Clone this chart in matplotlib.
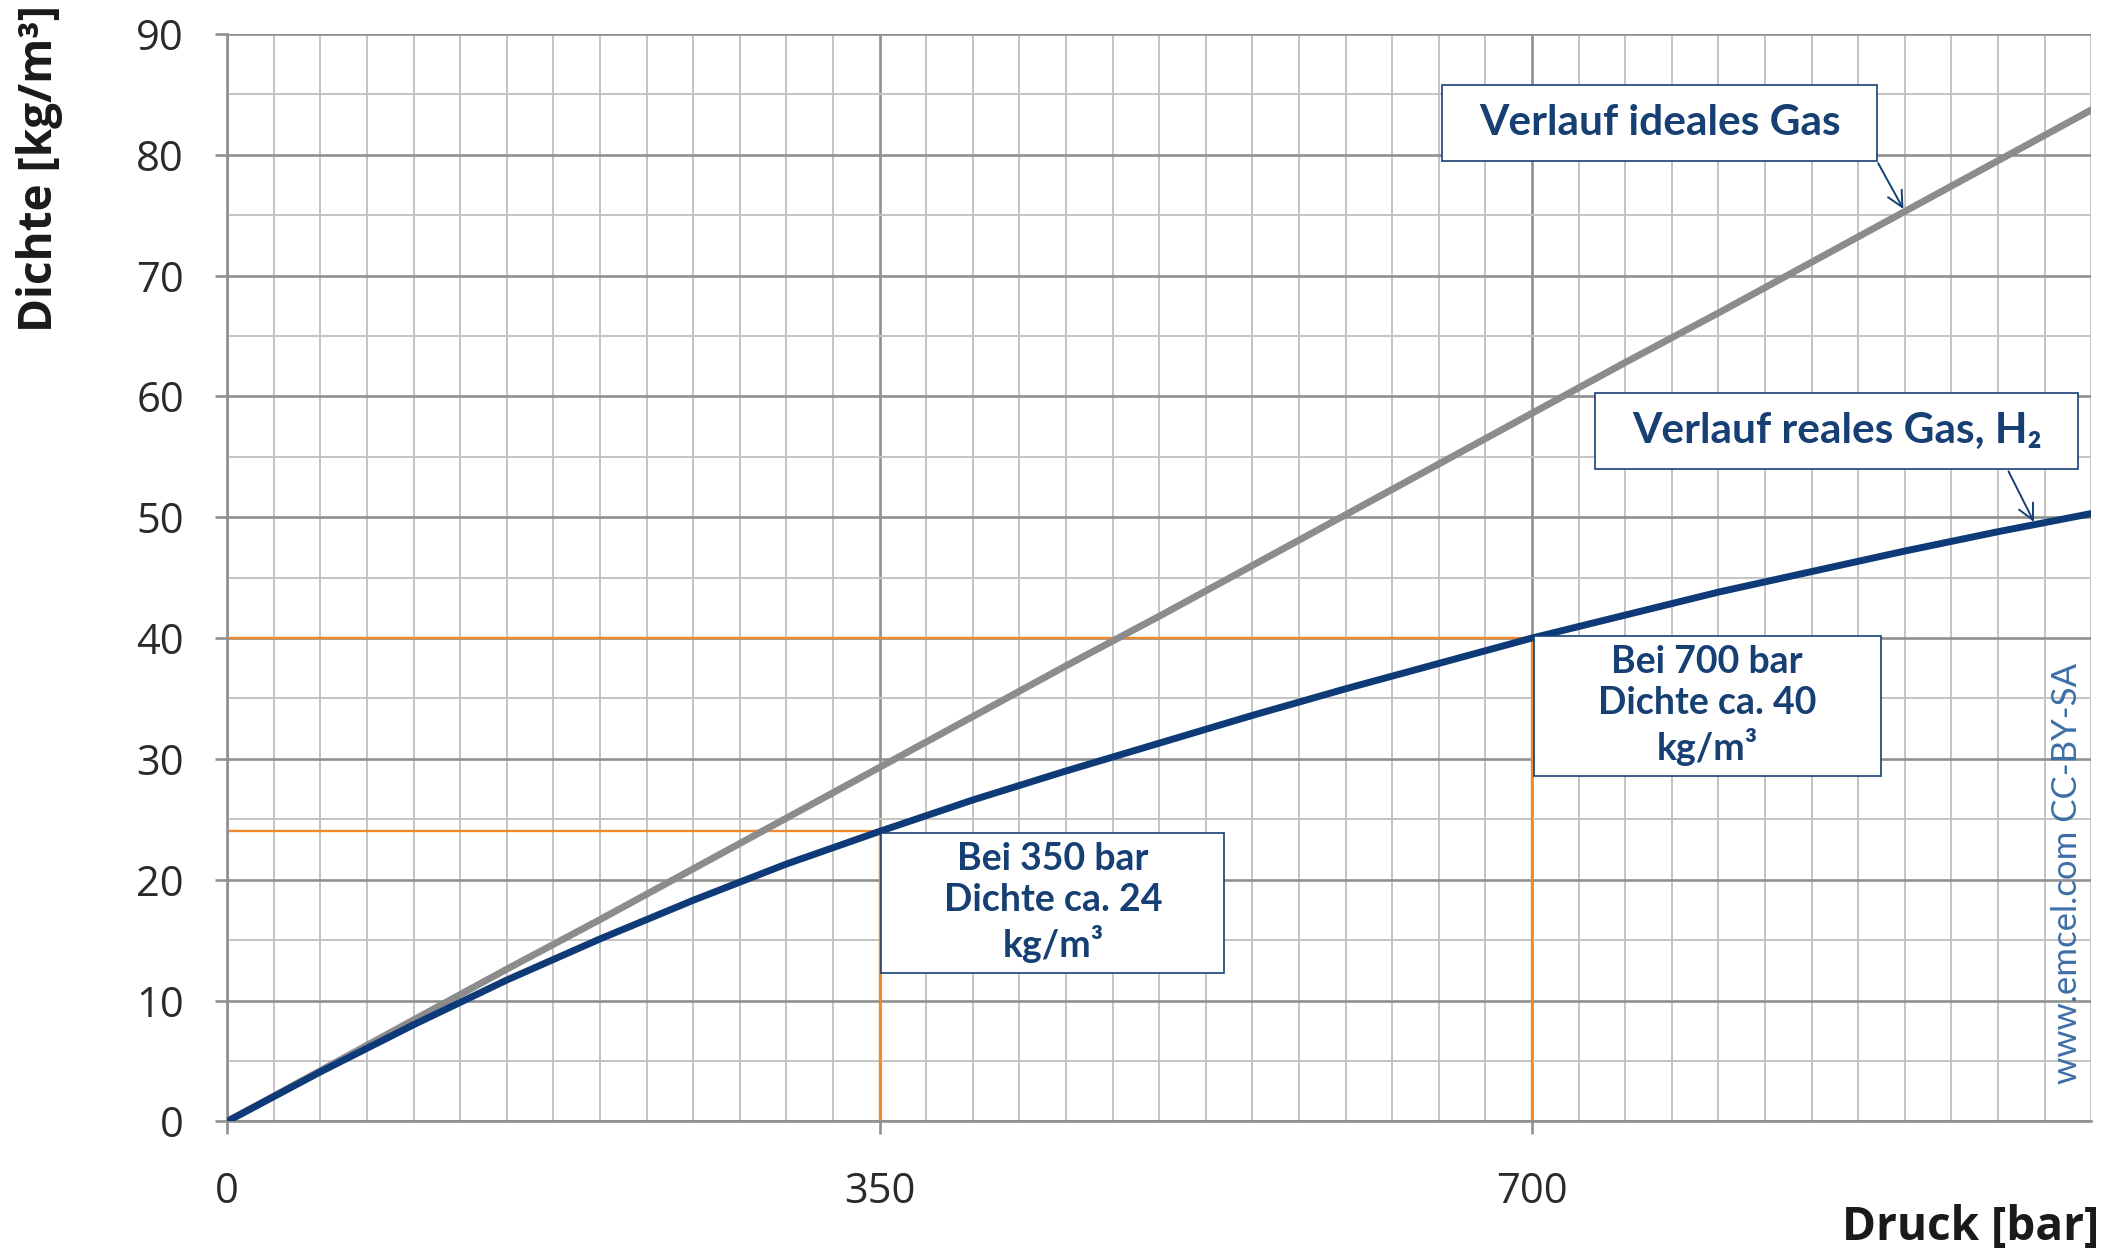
import numpy as np
import matplotlib
matplotlib.use('Agg')
import matplotlib.pyplot as plt
from matplotlib.patches import Rectangle

# ── Data ──
pressure = [0, 50, 100, 150, 200, 250, 300, 350, 400, 450, 500,
            550, 600, 650, 700, 750, 800, 850, 900, 950, 1000]
rho_ideal = [0, 4.2, 8.4, 12.6, 16.7, 20.9, 25.1, 29.3, 33.5, 37.7, 41.8,
             46.0, 50.2, 54.4, 58.6, 62.8, 66.9, 71.1, 75.3, 79.5, 83.7]
rho_real = [0, 4.1, 8.0, 11.7, 15.1, 18.3, 21.3, 24.0, 26.6, 29.0, 31.3,
            33.6, 35.8, 37.9, 40.0, 41.9, 43.8, 45.5, 47.2, 48.8, 50.3]
mark_p = [350, 700]
mark_rho = [24, 40]
x_ticks = [0, 350, 700]
y_ticks = [0, 10, 20, 30, 40, 50, 60, 70, 80, 90]

# ── Colors ──
c_ideal = '#8c8c8c'
c_real = '#0e3a78'
c_orange = '#ee8a2d'
c_box = '#163f74'
c_minor = '#c4c4c4'
c_major = '#909090'

fig = plt.figure(figsize=(21.23, 12.53), dpi=100)
fig.patch.set_facecolor('white')
ax = fig.add_axes([0.107, 0.105, 0.878, 0.868])

ax.set_xlim(0, 1000)
ax.set_ylim(0, 90)

# grid
ax.set_xticks(x_ticks)
ax.set_yticks(y_ticks)
ax.set_xticks(np.arange(0, 1001, 25), minor=True)
ax.set_yticks(np.arange(0, 91, 5), minor=True)
ax.grid(which='minor', color=c_minor, lw=1.4, zorder=0)
ax.grid(which='major', color=c_major, lw=1.9, zorder=0)
ax.set_axisbelow(True)
for s in ['top', 'right']:
    ax.spines[s].set_visible(False)
for s in ['left', 'bottom']:
    ax.spines[s].set_color(c_major)
    ax.spines[s].set_linewidth(1.9)

ax.tick_params(which='minor', length=0)
ax.tick_params(which='major', length=9, width=1.9, color=c_major,
               labelsize=30, labelcolor='#2a2a2a')
ax.tick_params(axis='x', which='major', pad=27)
ax.tick_params(axis='y', which='major', pad=22)
for lab in ax.get_xticklabels() + ax.get_yticklabels():
    lab.set_family('Open Sans')

# orange guide lines
for p, r in zip(mark_p, mark_rho):
    ax.plot([0, p, p], [r, r, 0], color=c_orange, lw=1.7, zorder=2,
            solid_capstyle='butt')

# curves
ax.plot(pressure, rho_ideal, color=c_ideal, lw=5.0, zorder=3)
ax.plot(pressure, rho_real, color=c_real, lw=5.0, zorder=4)

# ── annotation boxes ──
def draw_box(x0, y0, x1, y1, text, size):
    ax.add_patch(Rectangle((x0, y0), x1 - x0, y1 - y0, facecolor='white',
                           edgecolor=c_box, lw=1.2, zorder=5))
    ax.text((x0 + x1) / 2, (y0 + y1) / 2, text, ha='center', va='center',
            fontsize=size, fontweight='bold', color=c_box, linespacing=1.25,
            family=['Lato', 'DejaVu Sans'], zorder=6)

draw_box(652, 79.5, 885, 85.8, 'Verlauf ideales Gas', 30.5)
draw_box(734, 54.0, 993, 60.3, 'Verlauf reales Gas, H\u2082', 30.5)
draw_box(351, 12.3, 535, 23.9, 'Bei 350 bar\nDichte ca. 24\nkg/m\u00b3', 27)
draw_box(701, 28.6, 887, 40.2, 'Bei 700 bar\nDichte ca. 40\nkg/m\u00b3', 27)

arrow_kw = dict(arrowstyle='->', color=c_box, lw=1.4, mutation_scale=28)
ax.annotate('', xy=(900, np.interp(900, pressure, rho_ideal)),
            xytext=(885, 79.5), arrowprops=arrow_kw, zorder=6)
ax.annotate('', xy=(970, np.interp(970, pressure, rho_real)),
            xytext=(955, 54.0), arrowprops=arrow_kw, zorder=6)

# watermark
ax.text(987, 20.5, 'www.emcel.com CC-BY-SA', rotation=90, ha='center',
        va='center', fontsize=25, color='#3d6fa6', family='Lato', zorder=6)

# axis labels
fig.text(40 / 2123, 1 - 169 / 1253, 'Dichte [kg/m\u00b3]', rotation=90,
         ha='center', va='center', fontsize=33, fontweight='bold',
         color='#1a1a1a', family='Open Sans')
fig.text(0.9886, 0.02, 'Druck [bar]', ha='right', va='center',
         fontsize=33, fontweight='bold', color='#1a1a1a', family='Open Sans')

plt.savefig('out.png', dpi=100, facecolor='white')
